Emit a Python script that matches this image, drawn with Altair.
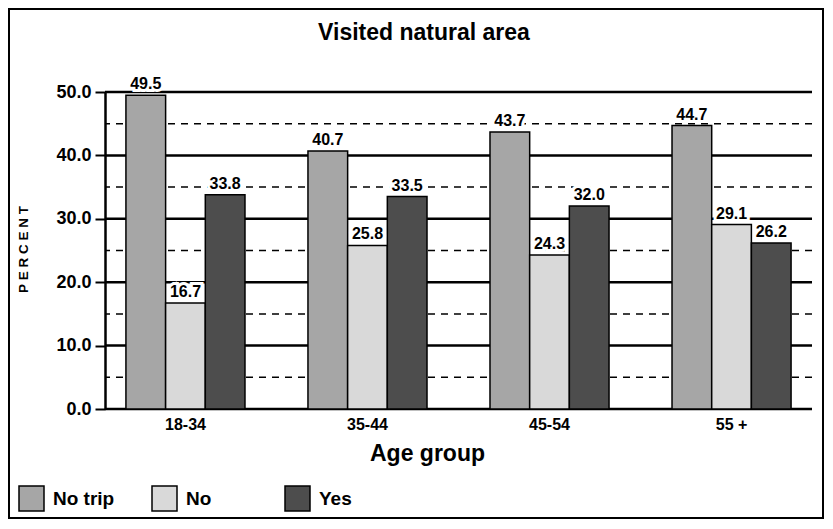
import altair as alt
import pandas as pd

groups = ["18-34", "35-44", "45-54", "55 +"]
series = ["No trip", "No", "Yes"]
no_trip = [49.5, 40.7, 43.7, 44.7]
no_vals = [16.7, 25.8, 24.3, 29.1]
yes_vals = [33.8, 33.5, 32.0, 26.2]
colors = ["#a6a6a6", "#d9d9d9", "#4d4d4d"]
solid_grid = [0, 10, 20, 30, 40, 50]
dashed_grid = [5, 15, 25, 35, 45]
y_ticks = [0, 10, 20, 30, 40, 50]

rows = []
for s, vals in zip(series, [no_trip, no_vals, yes_vals]):
    for g, v in zip(groups, vals):
        rows.append({"group": g, "series": s, "value": v})
df = pd.DataFrame(rows)

FONT = "Liberation Sans"
SP = "\u00a0"

x_axis = alt.Axis(title="Age group", labelFontSize=16, labelFontWeight="bold",
                  labelColor="black", labelAngle=0, labelPadding=7,
                  ticks=False, domain=False, grid=False,
                  titleFontSize=23, titleFontWeight="bold", titleColor="black",
                  titleX=322, titleY=51, titleBaseline="alphabetic",
                  titleAlign="center", labelFont=FONT, titleFont=FONT)
x_scale = alt.Scale(paddingInner=0.346, paddingOuter=0.115)
xo_enc = alt.XOffset("series:N", sort=series, scale=alt.Scale(paddingInner=0, paddingOuter=0))
y_scale = alt.Scale(domain=[0, 50], nice=False)
y_axis = alt.Axis(values=y_ticks, format=".1f",
                  title=SP.join(list("PERCENT")),
                  labelFontSize=18, labelFontWeight="bold", labelColor="black",
                  labelPadding=4, tickSize=10, tickWidth=2, tickColor="black",
                  domainColor="black", domainWidth=2.5, grid=False,
                  titleFontSize=13.5, titleFontWeight="bold", titleColor="black",
                  titleAngle=-90, titleX=-82, titleY=157, titleAlign="center",
                  titleBaseline="middle", labelFont=FONT, titleFont=FONT)

base = alt.Chart(df)

grid_solid = alt.Chart(pd.DataFrame({"v": solid_grid})).mark_rule(
    color="black", strokeWidth=2.5
).encode(y=alt.Y("v:Q", scale=y_scale, axis=y_axis))

grid_dash = alt.Chart(pd.DataFrame({"v": dashed_grid})).mark_rule(
    color="black", strokeWidth=1.5, strokeDash=[7, 6]
).encode(y=alt.Y("v:Q", scale=y_scale, axis=y_axis))

bars = base.mark_bar(stroke="black", strokeWidth=1.5).encode(
    x=alt.X("group:N", sort=groups, scale=x_scale, axis=x_axis),
    xOffset=xo_enc,
    y=alt.Y("value:Q", scale=y_scale, axis=y_axis),
    color=alt.Color("series:N", sort=series,
                    scale=alt.Scale(domain=series, range=colors),
                    legend=alt.Legend(title=None, orient="none", legendX=-87, legendY=393,
                                      direction="horizontal", columns=3, symbolType="square",
                                      symbolSize=625, symbolStrokeColor="black",
                                      symbolStrokeWidth=1.5, symbolOpacity=1,
                                      labelFontSize=19, labelFontWeight="bold",
                                      labelColor="black", labelFont=FONT, labelOffset=8,
                                      columnPadding=34, gridAlign="all", padding=0)),
)

halo = base.mark_text(baseline="alphabetic", dy=-6, fontSize=16, fontWeight="bold",
                      font=FONT, stroke="white", strokeWidth=6, color="white").encode(
    x=alt.X("group:N", sort=groups, scale=x_scale, axis=x_axis), xOffset=xo_enc,
    y=alt.Y("value:Q", scale=y_scale, axis=y_axis), text=alt.Text("value:Q", format=".1f"))

labels = base.mark_text(baseline="alphabetic", dy=-6, fontSize=16, fontWeight="bold",
                        font=FONT, color="black").encode(
    x=alt.X("group:N", sort=groups, scale=x_scale, axis=x_axis), xOffset=xo_enc,
    y=alt.Y("value:Q", scale=y_scale, axis=y_axis), text=alt.Text("value:Q", format=".1f"))

frame = alt.Chart(pd.DataFrame({"a": [0]})).mark_rect(
    fillOpacity=0, stroke="black", strokeWidth=2
).encode(x=alt.value(-96), x2=alt.value(718), y=alt.value(-83), y2=alt.value(426))

title = alt.Chart(pd.DataFrame({"t": ["Visited natural area"]})).mark_text(
    fontSize=23, fontWeight="bold", font=FONT, color="black", baseline="alphabetic", align="center"
).encode(x=alt.value(319), y=alt.value(-52), text="t:N")

chart = alt.layer(grid_dash, grid_solid, bars, halo, labels, frame, title).properties(
    width=707, height=317,
    padding={"left": 97, "top": 84, "right": 12, "bottom": 110},
    autosize=alt.AutoSizeParams(type="none"),
    background="white",
).configure_view(stroke=None)

chart.save("out.html", embed_options={"renderer": "svg", "actions": False})
